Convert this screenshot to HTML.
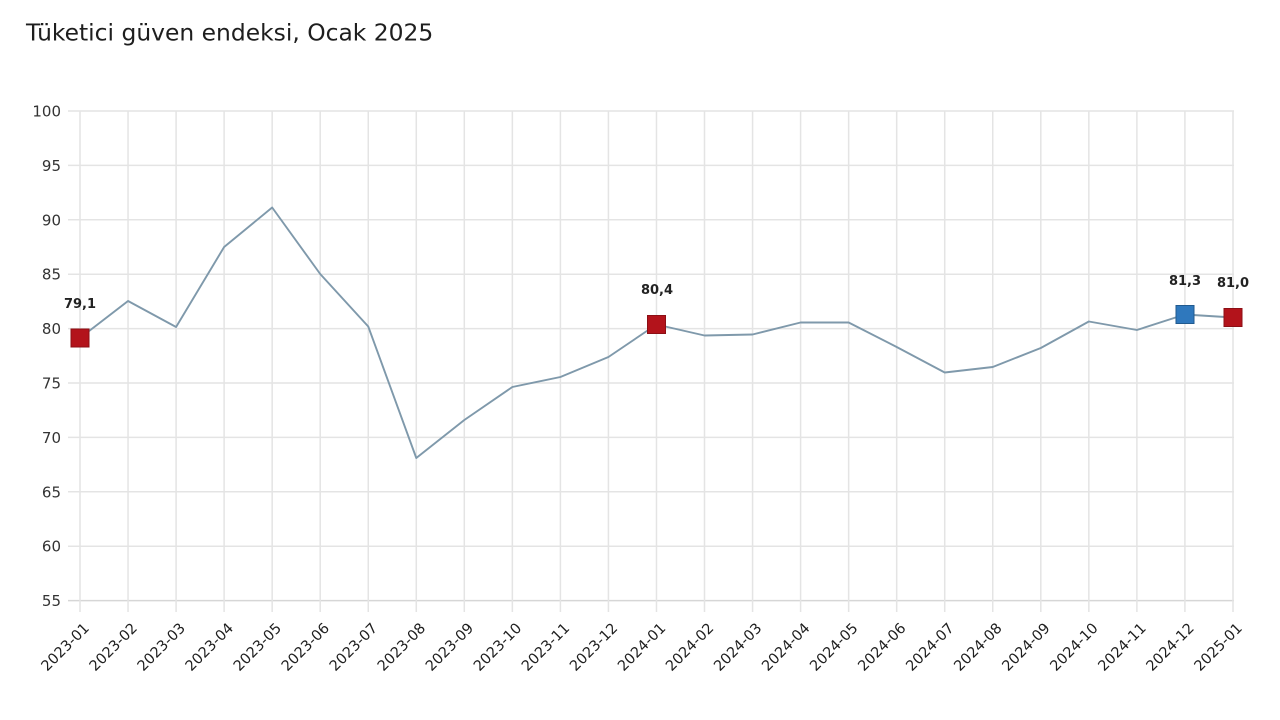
<!DOCTYPE html>
<html>
<head>
<meta charset="utf-8">
<style>
  html,body{margin:0;padding:0;background:#fff;}
  svg{display:block;}
  text{font-family:"DejaVu Sans","Liberation Sans",sans-serif;}
</style>
</head>
<body>
<svg width="1280" height="720" viewBox="0 0 1280 720" xmlns="http://www.w3.org/2000/svg">
  <rect width="1280" height="720" fill="#fff"/>
  <text x="26" y="40.5" font-size="23.4" fill="#1e1e1e">Tüketici güven endeksi, Ocak 2025</text>

  <!-- horizontal grid -->
  <g stroke="#e4e4e4" stroke-width="1.5">
    <line x1="68" y1="111" x2="1234" y2="111"/>
    <line x1="68" y1="165.4" x2="1234" y2="165.4"/>
    <line x1="68" y1="219.8" x2="1234" y2="219.8"/>
    <line x1="68" y1="274.2" x2="1234" y2="274.2"/>
    <line x1="68" y1="328.6" x2="1234" y2="328.6"/>
    <line x1="68" y1="383" x2="1234" y2="383"/>
    <line x1="68" y1="437.4" x2="1234" y2="437.4"/>
    <line x1="68" y1="491.8" x2="1234" y2="491.8"/>
    <line x1="68" y1="546.2" x2="1234" y2="546.2"/>
  </g>
  <line x1="68" y1="600.6" x2="1234" y2="600.6" stroke="#d6d6d6" stroke-width="1.5"/>

  <!-- vertical grid -->
  <g stroke="#e4e4e4" stroke-width="1.5">
    <line x1="80" y1="111" x2="80" y2="612"/>
    <line x1="128.04" y1="111" x2="128.04" y2="612"/>
    <line x1="176.08" y1="111" x2="176.08" y2="612"/>
    <line x1="224.12" y1="111" x2="224.12" y2="612"/>
    <line x1="272.16" y1="111" x2="272.16" y2="612"/>
    <line x1="320.2" y1="111" x2="320.2" y2="612"/>
    <line x1="368.24" y1="111" x2="368.24" y2="612"/>
    <line x1="416.28" y1="111" x2="416.28" y2="612"/>
    <line x1="464.32" y1="111" x2="464.32" y2="612"/>
    <line x1="512.36" y1="111" x2="512.36" y2="612"/>
    <line x1="560.4" y1="111" x2="560.4" y2="612"/>
    <line x1="608.44" y1="111" x2="608.44" y2="612"/>
    <line x1="656.48" y1="111" x2="656.48" y2="612"/>
    <line x1="704.52" y1="111" x2="704.52" y2="612"/>
    <line x1="752.56" y1="111" x2="752.56" y2="612"/>
    <line x1="800.6" y1="111" x2="800.6" y2="612"/>
    <line x1="848.64" y1="111" x2="848.64" y2="612"/>
    <line x1="896.68" y1="111" x2="896.68" y2="612"/>
    <line x1="944.72" y1="111" x2="944.72" y2="612"/>
    <line x1="992.76" y1="111" x2="992.76" y2="612"/>
    <line x1="1040.8" y1="111" x2="1040.8" y2="612"/>
    <line x1="1088.84" y1="111" x2="1088.84" y2="612"/>
    <line x1="1136.88" y1="111" x2="1136.88" y2="612"/>
    <line x1="1184.92" y1="111" x2="1184.92" y2="612"/>
    <line x1="1233" y1="111" x2="1233" y2="612"/>
  </g>

  <!-- y labels -->
  <g font-size="15" fill="#333" text-anchor="end">
    <text x="61" y="116.5">100</text>
    <text x="61" y="170.9">95</text>
    <text x="61" y="225.3">90</text>
    <text x="61" y="279.7">85</text>
    <text x="61" y="334.1">80</text>
    <text x="61" y="388.5">75</text>
    <text x="61" y="442.9">70</text>
    <text x="61" y="497.3">65</text>
    <text x="61" y="551.7">60</text>
    <text x="61" y="606.1">55</text>
  </g>

  <!-- x labels -->
  <g font-size="14.5" fill="#1e1e1e" text-anchor="end">
    <text transform="translate(90,629) rotate(-45)">2023-01</text>
    <text transform="translate(138.04,629) rotate(-45)">2023-02</text>
    <text transform="translate(186.08,629) rotate(-45)">2023-03</text>
    <text transform="translate(234.12,629) rotate(-45)">2023-04</text>
    <text transform="translate(282.16,629) rotate(-45)">2023-05</text>
    <text transform="translate(330.2,629) rotate(-45)">2023-06</text>
    <text transform="translate(378.24,629) rotate(-45)">2023-07</text>
    <text transform="translate(426.28,629) rotate(-45)">2023-08</text>
    <text transform="translate(474.32,629) rotate(-45)">2023-09</text>
    <text transform="translate(522.36,629) rotate(-45)">2023-10</text>
    <text transform="translate(570.4,629) rotate(-45)">2023-11</text>
    <text transform="translate(618.44,629) rotate(-45)">2023-12</text>
    <text transform="translate(666.48,629) rotate(-45)">2024-01</text>
    <text transform="translate(714.52,629) rotate(-45)">2024-02</text>
    <text transform="translate(762.56,629) rotate(-45)">2024-03</text>
    <text transform="translate(810.6,629) rotate(-45)">2024-04</text>
    <text transform="translate(858.64,629) rotate(-45)">2024-05</text>
    <text transform="translate(906.68,629) rotate(-45)">2024-06</text>
    <text transform="translate(954.72,629) rotate(-45)">2024-07</text>
    <text transform="translate(1002.76,629) rotate(-45)">2024-08</text>
    <text transform="translate(1050.8,629) rotate(-45)">2024-09</text>
    <text transform="translate(1098.84,629) rotate(-45)">2024-10</text>
    <text transform="translate(1146.88,629) rotate(-45)">2024-11</text>
    <text transform="translate(1194.92,629) rotate(-45)">2024-12</text>
    <text transform="translate(1243,629) rotate(-45)">2025-01</text>
  </g>

  <!-- series line -->
  <polyline fill="none" stroke="#7f99ab" stroke-width="1.9" stroke-linejoin="round"
    points="80,338 128.04,301 176.08,327 224.12,247 272.16,207.5 320.2,274 368.24,326.5 416.28,458 464.32,420 512.36,387 560.4,377 608.44,357 656.48,324.5 704.52,335.5 752.56,334.5 800.6,322.5 848.64,322.5 896.68,347 944.72,372.5 992.76,367 1040.8,348 1088.84,321.5 1136.88,330 1184.92,314.5 1233,317.5"/>

  <!-- markers -->
  <rect x="71" y="329" width="18" height="18" fill="#b3131b" stroke="#8c0f15" stroke-width="1"/>
  <rect x="647.5" y="315.5" width="18" height="18" fill="#b3131b" stroke="#8c0f15" stroke-width="1"/>
  <rect x="1176" y="305.5" width="18" height="18" fill="#2f78bd" stroke="#215a8e" stroke-width="1"/>
  <rect x="1224" y="308.5" width="18" height="18" fill="#b3131b" stroke="#8c0f15" stroke-width="1"/>

  <!-- data labels -->
  <g font-size="13" font-weight="bold" fill="#222" text-anchor="middle">
    <text x="80" y="308">79,1</text>
    <text x="657" y="294">80,4</text>
    <text x="1185" y="285">81,3</text>
    <text x="1233" y="287">81,0</text>
  </g>
</svg>
</body>
</html>
